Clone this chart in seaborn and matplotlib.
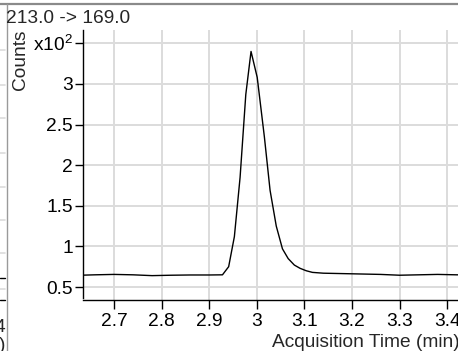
import matplotlib
matplotlib.use("Agg")
import matplotlib.pyplot as plt
from matplotlib.lines import Line2D
import seaborn as sns
import pandas as pd

# chromatogram trace, counts in units of 10^2
time_min = [2.630, 2.660, 2.700, 2.740, 2.780, 2.820, 2.860, 2.900, 2.928,
            2.941, 2.953, 2.965, 2.977, 2.988, 3.001, 3.016, 3.028, 3.041,
            3.054, 3.066, 3.079, 3.091, 3.104, 3.117, 3.140, 3.180, 3.220,
            3.260, 3.300, 3.340, 3.380, 3.420, 3.450]
counts = [0.645, 0.650, 0.655, 0.650, 0.640, 0.645, 0.648, 0.648, 0.650,
          0.750, 1.120, 1.850, 2.870, 3.400, 3.080, 2.350, 1.690, 1.250,
          0.970, 0.850, 0.770, 0.730, 0.700, 0.680, 0.670, 0.665, 0.660,
          0.655, 0.645, 0.650, 0.655, 0.650, 0.650]

x_ticks = [2.7, 2.8, 2.9, 3.0, 3.1, 3.2, 3.3, 3.4]
x_labels = ["2.7", "2.8", "2.9", "3", "3.1", "3.2", "3.3", "3.4"]
y_ticks = [0.5, 1.0, 1.5, 2.0, 2.5, 3.0, 3.5]
y_labels = ["0.5", "1", "1.5", "2", "2.5", "3", r"x10$^2$"]

title = "213.0 -> 169.0"
FS = 13.8

df = pd.DataFrame({"time": time_min, "counts": counts})

sns.set_style("white")
plt.rcParams["font.family"] = ["Liberation Sans", "DejaVu Sans"]
plt.rcParams["mathtext.fontset"] = "custom"
plt.rcParams["mathtext.rm"] = "Liberation Sans"
plt.rcParams["mathtext.it"] = "Liberation Sans"

W, H = 458, 351
fig = plt.figure(figsize=(W / 100, H / 100), dpi=100)
ax = fig.add_axes([83 / W, (H - 300) / H, (470 - 83) / W, 270 / H])

sns.lineplot(data=df, x="time", y="counts", color="black", linewidth=1.0, ax=ax)

ax.set_xlim(2.635, 3.448)
ax.set_ylim(0.34, 3.664)
ax.set_xticks(x_ticks)
ax.set_xticklabels(x_labels)
ax.set_yticks(y_ticks)
ax.set_yticklabels(y_labels)
ax.grid(True, color="#dcdcdc", linewidth=1.4)
ax.set_axisbelow(True)
ax.set_xlabel("")
ax.set_ylabel("")
for side in ["top", "right"]:
    ax.spines[side].set_visible(False)
for side in ["left", "bottom"]:
    ax.spines[side].set_color("black")
    ax.spines[side].set_linewidth(1.0)
ax.spines["left"].set_bounds(0.37, 3.664)
ax.tick_params(axis="x", direction="out", length=6.5, width=1.0, pad=3,
               labelsize=FS, colors="black", bottom=True)
ax.tick_params(axis="y", direction="out", length=6, width=1.0, pad=1.2,
               labelsize=FS, colors="black", left=True)

fig.text(6 / W, 1 - 23 / H, title, ha="left", va="baseline", fontsize=FS)
fig.text(21 / W, 1 - 29 / H, "Counts", rotation=90, ha="center", va="top",
         fontsize=FS)
fig.text(272 / W, 1 - 347 / H, "Acquisition Time (min)", ha="left",
         va="baseline", fontsize=FS)

# window frame and bits of the neighbouring panel
fig.add_artist(Line2D([0, 1], [1 - 3.5 / H, 1 - 3.5 / H], color="#8a8a8a",
                      linewidth=1.6, transform=fig.transFigure))
fig.add_artist(Line2D([6.5 / W, 6.5 / W], [0, 1 - 3.5 / H], color="#9a9a9a",
                      linewidth=1.0, transform=fig.transFigure))
for yy in [50, 85, 118, 153, 187, 220, 253, 289]:
    fig.add_artist(Line2D([0, 5 / W], [1 - yy / H, 1 - yy / H],
                          color="#dcdcdc", linewidth=1.2,
                          transform=fig.transFigure))
fig.add_artist(Line2D([0, 5 / W], [1 - 278 / H, 1 - 278 / H], color="black",
                      linewidth=1.0, transform=fig.transFigure))
fig.add_artist(Line2D([0, 5 / W], [1 - 300 / H, 1 - 300 / H], color="black",
                      linewidth=1.0, transform=fig.transFigure))
fig.text(5 / W, 1 - 327 / H, "4", ha="right", va="center", fontsize=FS)
fig.text(5 / W, 1 - 346 / H, ")", ha="right", va="center", fontsize=FS)

fig.savefig("out.png", dpi=100)
